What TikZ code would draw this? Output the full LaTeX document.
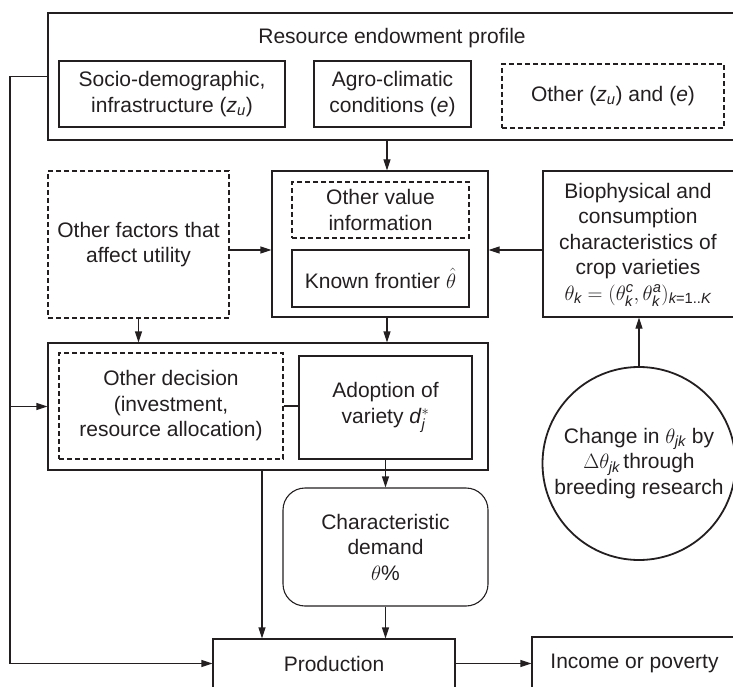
\documentclass[tikz,border=0pt]{standalone}
\usepackage{amsmath}
\usepackage{fontspec}
\setmainfont{Liberation Sans}
\usetikzlibrary{arrows.meta}
\definecolor{ink}{HTML}{231F20}
\begin{document}
\begin{tikzpicture}[x=1pt,y=-1pt,
  every node/.style={font=\fontsize{21}{25.5}\selectfont, text=ink},
  box/.style={draw=ink, line width=1.1pt, inner sep=0pt, align=center},
  dbox/.style={box, dash pattern=on 5pt off 3pt},
  ln/.style={draw=ink, line width=1.1pt},
  arr/.style={ln, -{Triangle[length=11pt,width=7pt]}}]
\useasboundingbox (0,0) rectangle (733,687);
\clip (0,0) rectangle (733,687);
% top block
\node[box, minimum width=690pt, minimum height=127pt] (outer) at (393,76.5) {};
\node (title) at (392,38) {Resource endowment profile};
\node[box, minimum width=226pt, minimum height=66pt] (socio) at (172,94) {Socio-demographic,\\infrastructure (\textit{z}\textsubscript{\textit{u}})};
\node[box, minimum width=157pt, minimum height=66pt] (agro) at (392.5,94) {Agro-climatic\\conditions (\textit{e})};
\node[dbox, minimum width=222pt, minimum height=64pt] (otherze) at (613,96) {Other (\textit{z}\textsubscript{\textit{u}}) and (\textit{e})};
% middle row
\node[dbox, minimum width=181pt, minimum height=147pt] (of) at (138.5,244.5) {Other factors that\\affect utility};
\node[box, minimum width=216pt, minimum height=146pt] (value) at (380,244) {};
\node[dbox, minimum width=177pt, minimum height=56pt] (ov) at (380.5,210) {Other value\\information};
\node[box, minimum width=177pt, minimum height=57pt] (kf) at (380.5,278.5) {Known frontier $\hat{\theta}$};
\node[box, minimum width=196pt, minimum height=146pt] (bio) at (641,244) {};
\node (biotext) at (638,244) {\begin{tabular}{@{}c@{}}Biophysical and\\consumption\\characteristics of\\crop varieties\\$\theta_{\textit{k}} = (\theta^{\textit{c}}_{\textit{k}},\theta^{\textit{a}}_{\textit{k}})_{\textit{k}\text{=1..}\textit{K}}$\end{tabular}};
% decision row
\node[box, minimum width=440pt, minimum height=127pt] (dec) at (268,406.5) {};
\node[dbox, minimum width=224pt, minimum height=106pt] (od) at (171,406) {Other decision\\(investment,\\resource allocation)};
\node[box, minimum width=173pt, minimum height=103pt] (ad) at (385.5,407.5) {Adoption of\\variety \textit{d}$^{*}_{\textit{j}}$};
\node[box, rounded corners=22pt, minimum width=205pt, minimum height=118pt] (cd) at (385.5,547) {Characteristic\\demand\\$\theta$\%};
\node[draw=ink, circle, line width=1.8pt, minimum size=193pt, inner sep=0pt, align=center] (circ) at (639,463.5) {Change in $\theta_{\textit{jk}}$ by\\$\Delta\theta_{\textit{jk}}$\,through\\breeding research};
% bottom
\node[box, minimum width=242pt, minimum height=49pt] (prod) at (334,663.5) {Production};
\node[box, minimum width=205pt, minimum height=52pt] (inc) at (634.5,663) {Income or poverty};
% helper x positions
\coordinate (c1) at (387,0);
\coordinate (c3) at (262,0);
\coordinate (y250) at (0,250);
\coordinate (lx) at (10,0);
% connectors
\draw[arr] (outer.south -| c1) -- (value.north -| c1);
\draw[arr] (of.east |- y250) -- (value.west |- y250);
\draw[arr] (bio.west |- y250) -- (value.east |- y250);
\draw[arr] (of.south) -- (of.south |- dec.north);
\draw[arr] (value.south -| c1) -- (dec.north -| c1);
\draw[ln] (od.east) -- (od.east -| ad.west);
\draw[arr] (ad.south) -- (ad.south |- cd.north);
\draw[arr] (circ.north) -- (circ.north |- bio.south);
\draw[arr] (dec.south -| c3) -- (prod.north -| c3);
\draw[arr] (cd.south) -- (cd.south |- prod.north);
\draw[arr] (prod.east) -- (prod.east -| inc.west);
\draw[ln] (outer.west) -- (outer.west -| lx) coordinate (lcorner);
\draw[arr] (lcorner) |- (prod.west);
\draw[arr] (lcorner |- dec.west) -- (dec.west);
\end{tikzpicture}
\end{document}
